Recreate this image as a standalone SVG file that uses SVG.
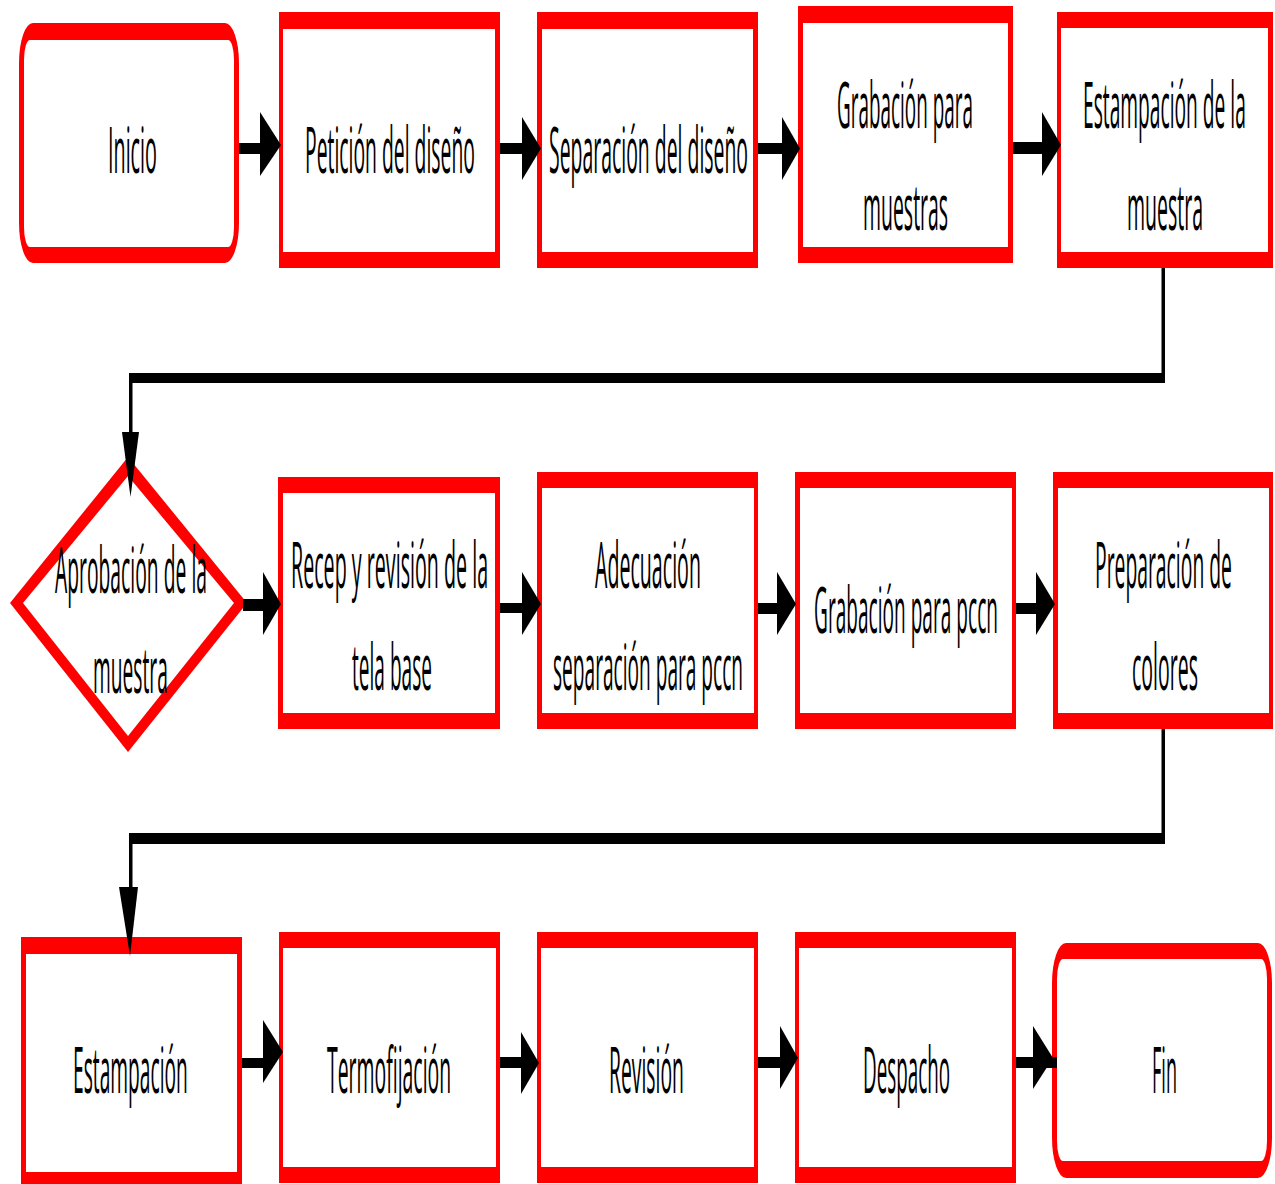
<svg xmlns="http://www.w3.org/2000/svg" width="1275" height="1184" viewBox="0 0 1275 1184">
<style>
.frame{fill:#ff0000}
.inner{fill:#ffffff}
.lbl{font-family:"Open Sans","Noto Sans","DejaVu Sans",sans-serif;font-size:64px;fill:#000000}
.ln{fill:#000000}
.ah{fill:#000000}
</style>
<rect width="1275" height="1184" fill="#ffffff"/>
<g id="nodes">
<g id="n-inicio">
<rect class="frame" x="19" y="23" width="220" height="240" rx="14" ry="40"/>
<rect class="inner" x="24" y="40" width="210" height="207" rx="6" ry="20"/>
<text class="lbl" transform="translate(108,173) scale(0.32,1)" textLength="153" lengthAdjust="spacingAndGlyphs">Inicio</text>
</g>
<g id="n-peticion">
<rect class="frame" x="279" y="12" width="221" height="256"/>
<rect class="inner" x="283" y="29" width="212" height="223"/>
<text class="lbl" transform="translate(305,173) scale(0.32,1)" textLength="531" lengthAdjust="spacingAndGlyphs">Petición del diseño</text>
</g>
<g id="n-separacion">
<rect class="frame" x="537" y="12" width="221" height="256"/>
<rect class="inner" x="542" y="29" width="211" height="223"/>
<text class="lbl" transform="translate(549,173) scale(0.32,1)" textLength="622" lengthAdjust="spacingAndGlyphs">Separación del diseño</text>
</g>
<g id="n-grabacion-muestras">
<rect class="frame" x="798" y="6" width="215" height="257"/>
<rect class="inner" x="803" y="23" width="205" height="224"/>
<text class="lbl" transform="translate(837,128) scale(0.32,1)" textLength="425" lengthAdjust="spacingAndGlyphs">Grabación para</text>
<text class="lbl" transform="translate(863,230) scale(0.32,1)" textLength="266" lengthAdjust="spacingAndGlyphs">muestras</text>
</g>
<g id="n-estampacion-muestra">
<rect class="frame" x="1057" y="12" width="216" height="256"/>
<rect class="inner" x="1061" y="28" width="207" height="224"/>
<text class="lbl" transform="translate(1083,128) scale(0.32,1)" textLength="509" lengthAdjust="spacingAndGlyphs">Estampación de la</text>
<text class="lbl" transform="translate(1127,230) scale(0.32,1)" textLength="238" lengthAdjust="spacingAndGlyphs">muestra</text>
</g>
<g id="n-aprobacion">
<polygon class="frame" points="128,457 247,603 128,752 10,603"/>
<polygon class="inner" points="128,476 234,603 128,736 23,603"/>
<text class="lbl" transform="translate(55,593) scale(0.32,1)" textLength="475" lengthAdjust="spacingAndGlyphs">Aprobación de la</text>
<text class="lbl" transform="translate(93,693) scale(0.32,1)" textLength="234" lengthAdjust="spacingAndGlyphs">muestra</text>
</g>
<g id="n-recep">
<rect class="frame" x="278" y="477" width="222" height="252"/>
<rect class="inner" x="283" y="493" width="212" height="220"/>
<text class="lbl" transform="translate(291,588) scale(0.32,1)" textLength="616" lengthAdjust="spacingAndGlyphs">Recep y revisión de la</text>
<text class="lbl" transform="translate(352,690) scale(0.32,1)" textLength="250" lengthAdjust="spacingAndGlyphs">tela base</text>
</g>
<g id="n-adecuacion">
<rect class="frame" x="537" y="472" width="221" height="257"/>
<rect class="inner" x="542" y="488" width="212" height="225"/>
<text class="lbl" transform="translate(595,588) scale(0.32,1)" textLength="331" lengthAdjust="spacingAndGlyphs">Adecuación</text>
<text class="lbl" transform="translate(553,690) scale(0.32,1)" textLength="594" lengthAdjust="spacingAndGlyphs">separación para pccn</text>
</g>
<g id="n-grabacion-pccn">
<rect class="frame" x="795" y="472" width="221" height="257"/>
<rect class="inner" x="800" y="488" width="212" height="225"/>
<text class="lbl" transform="translate(814,633) scale(0.32,1)" textLength="575" lengthAdjust="spacingAndGlyphs">Grabación para pccn</text>
</g>
<g id="n-preparacion">
<rect class="frame" x="1053" y="472" width="220" height="257"/>
<rect class="inner" x="1058" y="488" width="211" height="225"/>
<text class="lbl" transform="translate(1095,588) scale(0.32,1)" textLength="428" lengthAdjust="spacingAndGlyphs">Preparación de</text>
<text class="lbl" transform="translate(1132,690) scale(0.32,1)" textLength="206" lengthAdjust="spacingAndGlyphs">colores</text>
</g>
<g id="n-estampacion">
<rect class="frame" x="21" y="937" width="221" height="251"/>
<rect class="inner" x="26" y="954" width="211" height="218"/>
<text class="lbl" transform="translate(73,1093) scale(0.32,1)" textLength="359" lengthAdjust="spacingAndGlyphs">Estampación</text>
</g>
<g id="n-termofijacion">
<rect class="frame" x="279" y="932" width="221" height="251"/>
<rect class="inner" x="283" y="948" width="213" height="219"/>
<text class="lbl" transform="translate(327,1093) scale(0.32,1)" textLength="388" lengthAdjust="spacingAndGlyphs">Termofijación</text>
</g>
<g id="n-revision">
<rect class="frame" x="537" y="932" width="221" height="251"/>
<rect class="inner" x="541" y="948" width="213" height="219"/>
<text class="lbl" transform="translate(609,1093) scale(0.32,1)" textLength="234" lengthAdjust="spacingAndGlyphs">Revisión</text>
</g>
<g id="n-despacho">
<rect class="frame" x="795" y="932" width="221" height="251"/>
<rect class="inner" x="799" y="948" width="213" height="219"/>
<text class="lbl" transform="translate(863,1093) scale(0.32,1)" textLength="272" lengthAdjust="spacingAndGlyphs">Despacho</text>
</g>
<g id="n-fin">
<rect class="frame" x="1052" y="943" width="220" height="235" rx="14" ry="40"/>
<rect class="inner" x="1057" y="959" width="210" height="202" rx="6" ry="20"/>
<text class="lbl" transform="translate(1152,1093) scale(0.32,1)" textLength="78" lengthAdjust="spacingAndGlyphs">Fin</text>
</g>
</g>
<g id="connectors">
<rect class="ln" x="239" y="143" width="24" height="11"/>
<polygon class="ah" points="260,112 281,145 260,176"/>
<rect class="ln" x="500" y="143" width="24" height="11"/>
<polygon class="ah" points="522,117 541,148.5 522,180"/>
<rect class="ln" x="758" y="143" width="26" height="11"/>
<polygon class="ah" points="782,117 800,148.5 782,180"/>
<rect class="ln" x="1013" y="142" width="31" height="12"/>
<polygon class="ah" points="1042,112 1061,145 1042,176"/>
<rect class="ln" x="243" y="599" width="22" height="12"/>
<polygon class="ah" points="263,572 281,604 263,635"/>
<rect class="ln" x="500" y="603" width="24" height="10"/>
<polygon class="ah" points="522,572 541,604 522,635"/>
<rect class="ln" x="758" y="603" width="21" height="11"/>
<polygon class="ah" points="777,572 796,604 777,635"/>
<rect class="ln" x="1016" y="603" width="22" height="11"/>
<polygon class="ah" points="1036,572 1055,604 1036,635"/>
<rect class="ln" x="242" y="1058" width="23" height="10"/>
<polygon class="ah" points="263,1020 283,1052 263,1083"/>
<rect class="ln" x="500" y="1057" width="23" height="11"/>
<polygon class="ah" points="521,1032 539,1063 521,1094"/>
<rect class="ln" x="758" y="1057" width="24" height="11"/>
<polygon class="ah" points="780,1026 798,1058 780,1089"/>
<rect class="ln" x="1016" y="1057" width="41" height="11"/>
<polygon class="ah" points="1033,1026 1053,1058 1033,1089"/>
<rect class="ln" x="1161.5" y="268" width="3.5" height="115"/>
<rect class="ln" x="129" y="373" width="1036" height="10"/>
<rect class="ln" x="129" y="373" width="3.5" height="62"/>
<polygon class="ah" points="122,432 139,432 130.5,497"/>
<rect class="ln" x="1161.5" y="729" width="3.5" height="115"/>
<rect class="ln" x="129" y="833" width="1036" height="11"/>
<rect class="ln" x="129" y="833" width="3.5" height="56"/>
<polygon class="ah" points="119,887 138,887 130,956"/>
</g>
</svg>
